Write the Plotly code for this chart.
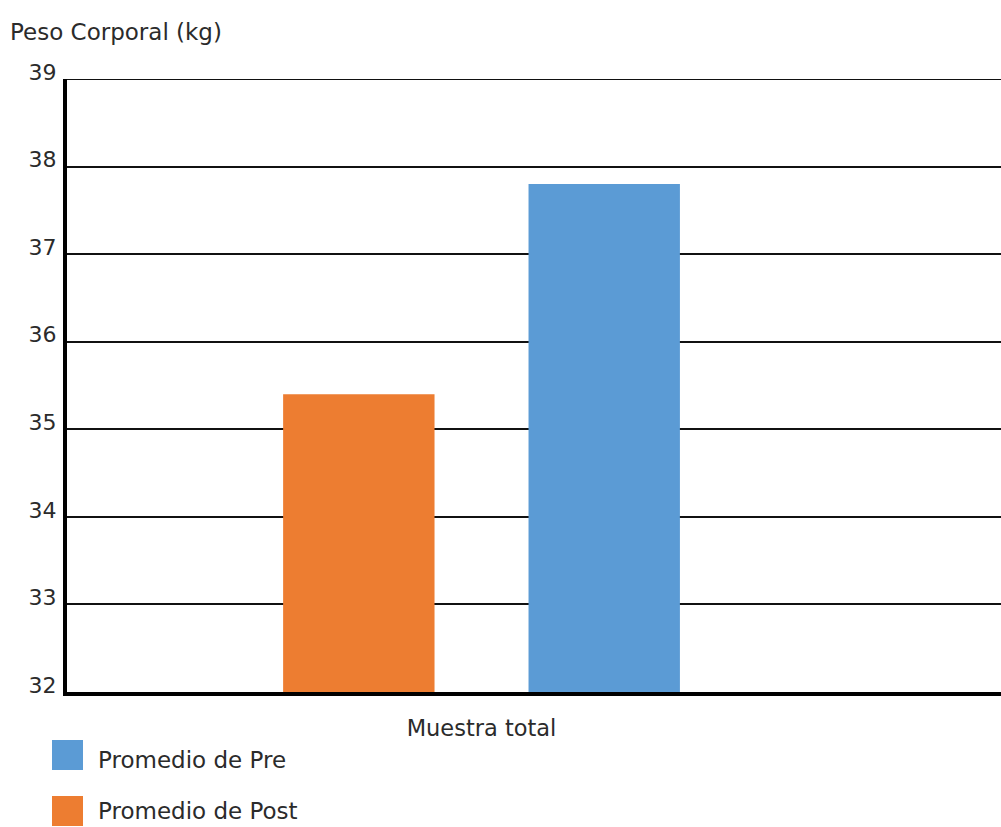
import plotly.graph_objects as go

# Data
categoria = ["Muestra total"]
series = ["Promedio de Post", "Promedio de Pre"]
valores_post = [35.4]
valores_pre = [37.8]
colores = {"Promedio de Pre": "#5B9BD5", "Promedio de Post": "#ED7D31"}
y_ticks = [32, 33, 34, 35, 36, 37, 38, 39]

W, H = 1001, 827
ML, MR, MT, MB = 67, 0, 79, 135
FONT = "DejaVu Sans"
TXT = "#2b2b2b"

fig = go.Figure()
fig.add_trace(go.Bar(x=categoria, y=valores_post, name=series[0],
                     marker=dict(color=colores[series[0]], line=dict(width=0)),
                     base=0))
fig.add_trace(go.Bar(x=categoria, y=valores_pre, name=series[1],
                     marker=dict(color=colores[series[1]], line=dict(width=0)),
                     base=0))

pw = W - ML - MR
ph = H - MT - MB


def px_to_paper(px, py):
    return (px - ML) / pw, (H - MB - py) / ph


# Top gridline at the range limit
shapes = [dict(type="line", xref="paper", yref="y", x0=0, x1=1,
               y0=y_ticks[-1], y1=y_ticks[-1],
               line=dict(color="#111111", width=2), layer="below")]
annotations = []

# Legend drawn as swatches and labels below the axis
legend_rows = [("Promedio de Pre", 755, 760), ("Promedio de Post", 811, 811)]
for name, cy, ty_px in legend_rows:
    x0, y0 = px_to_paper(52, cy + 15)
    x1, y1 = px_to_paper(83, cy - 15)
    shapes.append(dict(type="rect", xref="paper", yref="paper",
                       x0=x0, y0=y0, x1=x1, y1=y1,
                       fillcolor=colores[name], line=dict(width=0)))
    tx, ty = px_to_paper(96, ty_px)
    annotations.append(dict(text=name, xref="paper", yref="paper",
                            x=tx, y=ty, xanchor="left", yanchor="middle",
                            showarrow=False,
                            font=dict(family=FONT, size=23, color=TXT)))

fig.update_layout(
    width=W, height=H,
    margin=dict(l=ML, r=MR, t=MT, b=MB),
    paper_bgcolor="white", plot_bgcolor="white",
    barmode="group", bargap=0.408, bargroupgap=0.383,
    showlegend=False,
    title=dict(text="Peso Corporal (kg)", xref="container", yref="container",
               x=10 / W, y=1 - 32 / H, xanchor="left", yanchor="middle",
               font=dict(family=FONT, size=23, color=TXT)),
    font=dict(family=FONT, size=22, color=TXT),
    shapes=shapes,
    annotations=annotations,
)
fig.update_yaxes(range=[32, 39], tickvals=y_ticks, showgrid=True,
                 gridcolor="#111111", gridwidth=2,
                 showline=True, linecolor="#000000", linewidth=4,
                 ticks="", ticklabelstandoff=2, ticklabelshift=-7,
                 zeroline=False,
                 tickfont=dict(family=FONT, size=22, color=TXT))
fig.update_xaxes(range=[-0.5, 0.6266], showgrid=False,
                 showline=True, linecolor="#000000", linewidth=4,
                 ticks="", ticklabelstandoff=13,
                 tickfont=dict(family=FONT, size=22.5, color=TXT))

fig.write_html("out.html", config={"displayModeBar": False})
